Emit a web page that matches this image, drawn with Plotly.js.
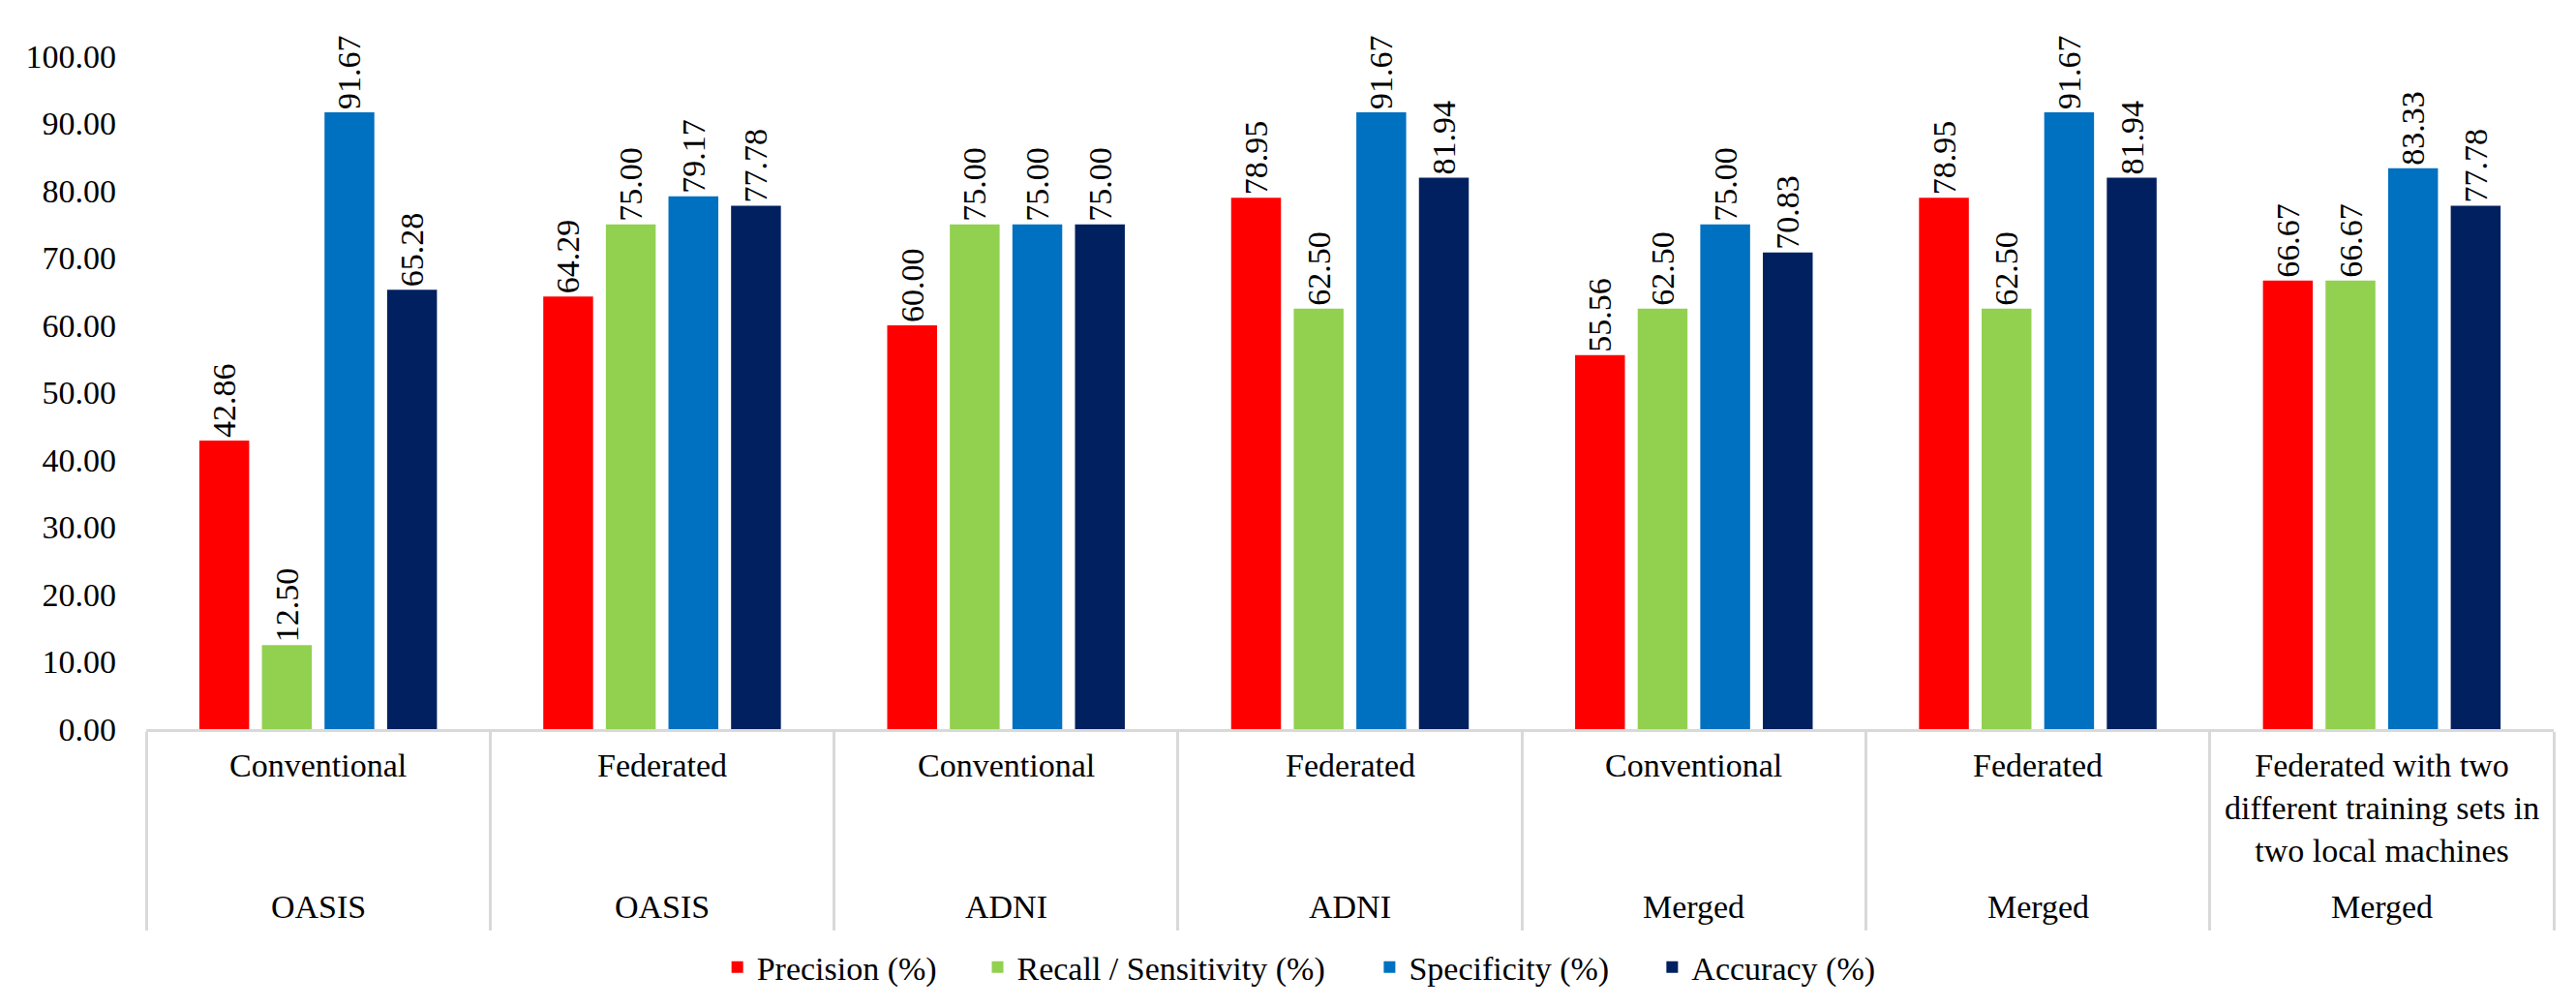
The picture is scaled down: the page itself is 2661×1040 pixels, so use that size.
<!DOCTYPE html>
<html>
<head>
<meta charset="utf-8">
<script src="https://cdn.plot.ly/plotly-3.0.1.min.js"></script>
<style>
  html, body { margin: 0; padding: 0; background: #ffffff; }
  #chart { width: 2661px; height: 1040px; }
</style>
</head>
<body>
<div id="chart"></div>
<script>
// ---- data ----
var datasets = ['OASIS', 'OASIS', 'ADNI', 'ADNI', 'Merged', 'Merged', 'Merged'];
var methods = ['Conventional', 'Federated', 'Conventional', 'Federated', 'Conventional', 'Federated',
               'Federated with two<br>different training sets in<br>two local machines'];
var seriesNames = ['Precision (%)', 'Recall / Sensitivity (%)', 'Specificity (%)', 'Accuracy (%)'];
var precision   = [42.86, 64.29, 60.00, 78.95, 55.56, 78.95, 66.67];
var recall      = [12.50, 75.00, 75.00, 62.50, 62.50, 62.50, 66.67];
var specificity = [91.67, 79.17, 75.00, 91.67, 75.00, 91.67, 83.33];
var accuracy    = [65.28, 77.78, 75.00, 81.94, 70.83, 81.94, 77.78];
var yTicks = [0, 10, 20, 30, 40, 50, 60, 70, 80, 90, 100];

// ---- styling ----
var FONT = "'Liberation Serif', 'Times New Roman', Times, serif";
var colors = ['#FF0000', '#92D050', '#0070C0', '#002060'];
var values = [precision, recall, specificity, accuracy];
var legendIds = ['legend', 'legend2', 'legend3', 'legend4'];
var legendX = [0.2375, 0.3456, 0.5084, 0.6258];   // left edge of each legend entry (paper units)

var xKeys = methods.map(function (m, i) { return m + ' / ' + datasets[i]; });

var traces = values.map(function (v, k) {
  return {
    type: 'bar',
    name: seriesNames[k],
    legend: legendIds[k],
    x: xKeys,
    y: v,
    marker: { color: colors[k] },
    texttemplate: '%{y:.2f}',
    textposition: 'outside',
    textangle: -90,
    constraintext: 'none',
    cliponaxis: false,
    outsidetextfont: { family: FONT, size: 34, color: '#000000' },
    hoverinfo: 'skip'
  };
});

var annotations = [];
xKeys.forEach(function (key, i) {
  annotations.push({
    x: key, xref: 'x', y: 0, yref: 'paper',
    yanchor: 'top', xanchor: 'center', align: 'center',
    yshift: -17, showarrow: false,
    text: methods[i],
    font: { family: FONT, size: 34, color: '#000000' }
  });
  annotations.push({
    x: key, xref: 'x', y: 0, yref: 'paper',
    yanchor: 'middle', xanchor: 'center',
    yshift: -183, showarrow: false,
    text: datasets[i],
    font: { family: FONT, size: 34, color: '#000000' }
  });
});

var layout = {
  width: 2661, height: 1040,
  margin: { l: 151, r: 23, t: 58, b: 285, pad: 0 },
  paper_bgcolor: '#ffffff', plot_bgcolor: '#ffffff',
  font: { family: FONT, size: 34, color: '#000000' },
  barmode: 'group',
  bargap: 0.272,
  bargroupgap: 0.204,
  showlegend: true,
  xaxis: {
    type: 'category',
    showticklabels: false,
    showline: true, linecolor: '#D9D9D9', linewidth: 3,
    ticks: 'outside', tickson: 'boundaries', ticklen: 205, tickwidth: 3, tickcolor: '#D9D9D9',
    showgrid: false, zeroline: false, fixedrange: true
  },
  yaxis: {
    range: [0, 100],
    tickvals: yTicks,
    tickformat: '.2f',
    showline: false, showgrid: false, zeroline: false,
    ticks: '', ticklabelstandoff: 30,
    tickfont: { family: FONT, size: 34, color: '#000000' },
    fixedrange: true
  },
  annotations: annotations
};

legendIds.forEach(function (id, k) {
  layout[id] = {
    orientation: 'h', x: legendX[k], xanchor: 'left', y: -0.354, yanchor: 'middle',
    font: { family: FONT, size: 34, color: '#000000' },
    bgcolor: 'rgba(0,0,0,0)', borderwidth: 0
  };
});

Plotly.newPlot('chart', traces, layout, { displayModeBar: false, staticPlot: true });
</script>
</body>
</html>
